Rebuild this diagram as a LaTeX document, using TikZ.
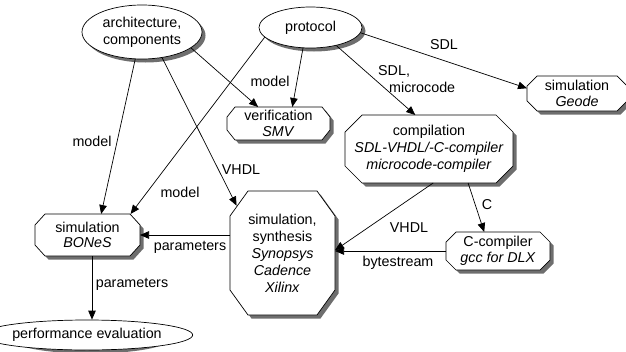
\documentclass[tikz,border=0pt]{standalone}
\usepackage{fontspec}
\setmainfont{Liberation Sans}
\usetikzlibrary{shapes.geometric,arrows.meta}

\definecolor{shadowcol}{RGB}{110,110,110}

\tikzset{
  lw/.style={line width=0.7pt},
  oval/.style={lw, draw=black, fill=white, ellipse, inner sep=0pt, align=center},
  octa/.style={rectangle, draw=none, inner sep=0pt, outer sep=0pt, align=center},
  conn/.style={lw, draw=black, -{Triangle[length=9pt,width=7.5pt]}},
  lbl/.style={inner sep=0pt, align=center},
  small/.style={font=\fontsize{14.3}{15.5}\selectfont},
  shade box/.style={fill=shadowcol}
}

% octagonal box with drop shadow:
% [node options]{name}{x}{y}{width}{height}{corner cut x}{corner cut y}{text}
\newcommand\octbox[9][]{%
  \pgfmathsetmacro\ox{#3-#5/2}\pgfmathsetmacro\oX{#3+#5/2}%
  \pgfmathsetmacro\oy{#4-#6/2}\pgfmathsetmacro\oY{#4+#6/2}%
  \def\octpath{(\ox+#7,\oy) -- (\oX-#7,\oy) -- (\oX,\oy+#8) -- (\oX,\oY-#8) --
    (\oX-#7,\oY) -- (\ox+#7,\oY) -- (\ox,\oY-#8) -- (\ox,\oy+#8) -- cycle}%
  \path[shade box, shift={(3.5pt,-3.5pt)}] \octpath;
  \filldraw[lw, fill=white, draw=black] \octpath;
  \node[octa, minimum width=#5pt, minimum height=#6pt, #1] (#2) at (#3,#4) {#9};
}

% elliptic box with drop shadow: [node options]{name}{x}{y}{width}{height}{text}
\newcommand\ovalbox[7][]{%
  \path[shade box] (#3+3.5,#4+3.5) ellipse [x radius=#5/2, y radius=#6/2];
  \node[oval, minimum width=#5pt, minimum height=#6pt, #1] (#2) at (#3,#4) {#7};
}

\begin{document}
\begin{tikzpicture}[x=1pt, y=-1pt, font=\fontsize{14.3}{17}\selectfont]
\useasboundingbox (0,0) rectangle (626,351);

% sources and result
\ovalbox{arch}{142}{32}{120}{54}{architecture,\\components}
\ovalbox{proto}{310.5}{27.5}{103}{41}{protocol}
\ovalbox{perf}{87}{335}{160}{30}{performance evaluation}

% tools
\octbox[small]{verif}{278.5}{123.5}{103}{33}{8}{10}{verification\\\textit{SMV}}
\octbox[small]{geode}{577}{93.5}{100}{35}{10}{10}{simulation\\\textit{Geode}}
\octbox{comp}{429}{149}{168}{68}{17}{17}{compilation\\\textit{SDL-VHDL/-C-compiler}\\\textit{microcode-compiler}}
\octbox[small]{bones}{87.5}{235}{105}{42}{10}{11}{simulation\\\textit{BONeS}}
\octbox{synth}{282.5}{253}{105}{124}{18}{25}{simulation,\\synthesis\\\textit{Synopsys}\\\textit{Cadence}\\\textit{Xilinx}}
\octbox[small]{ccomp}{498}{251}{104}{38}{10}{10}{C-compiler\\\textit{gcc for DLX}}

% connectors
\draw[conn] (arch.-104.5) -- (bones.57.3);
\draw[conn, shorten >=-14.6pt] (arch.-52) -- (synth.131.7);
\draw[conn] (arch.-18) -- (verif.141.2);
\draw[conn] (proto.-110) -- (verif.50.7);
\draw[conn] (proto.-168) -- (bones.26.3);
\draw[conn] (proto.-35.7) -- (comp.112.4);
\draw[conn] (proto.-6) -- (geode.174.9);
\draw[conn] (comp.-83.3) -- (synth.3.3);
\draw[conn] (comp.-41.8) -- (ccomp.126.4);
\draw[conn] (ccomp.west) -- (ccomp.west -| synth.east);
\draw[conn] (synth.west |- bones.east) -- (bones.east);
\draw[conn] ([xshift=4.5pt]bones.south) -- ([xshift=4.5pt]bones.south |- perf.north);

% connector labels
\node[lbl] (l1) at (92,141) {model};
\node[lbl] (l2) at (270,81) {model};
\node[lbl] (l3) at (241,170) {VHDL};
\node[lbl] (l4) at (180,192) {model};
\node[lbl] (l5) at (444,45) {SDL};
\node[lbl, align=left, anchor=north west] (l6) at (378,65) {SDL,\\\hspace*{11pt}microcode};
\node[lbl] (l7) at (409,228) {VHDL};
\node[lbl] (l8) at (487,205) {C};
\node[lbl] (l9) at (398,263) {bytestream};
\node[lbl] (l10) at (190,247) {parameters};
\node[lbl] (l11) at (132,284) {parameters};
\end{tikzpicture}
\end{document}
